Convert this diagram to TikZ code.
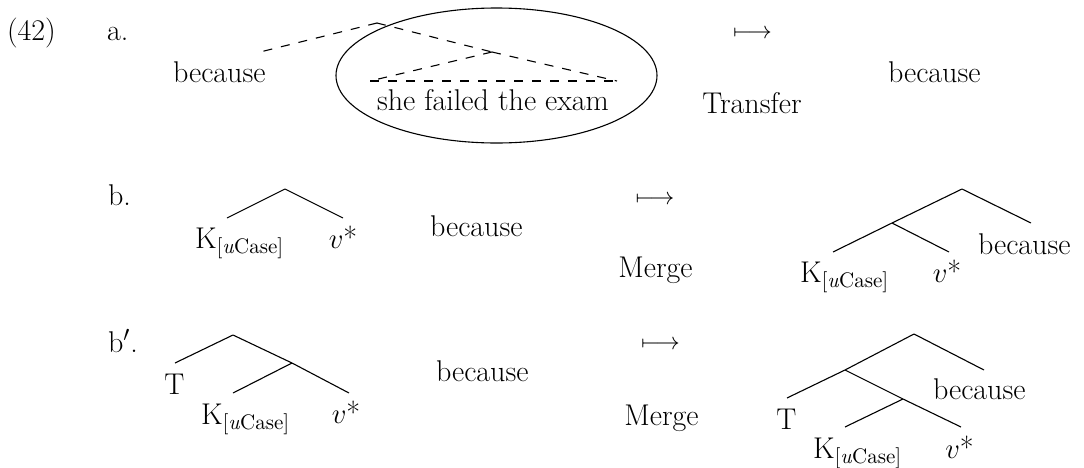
\documentclass[tikz,border=0pt]{standalone}
\usetikzlibrary{shapes.geometric}
\begin{document}
\begin{tikzpicture}[x=0.5pt,y=-0.5pt,
  lbl/.style={font=\fontsize{15}{18}\selectfont, inner sep=0pt, outer sep=0pt},
  arr/.style={font=\fontsize{13}{16}\selectfont, inner sep=0pt, outer sep=0pt, anchor=base},
  branch/.style={line width=0.55pt},
  dbranch/.style={line width=0.55pt, dash pattern=on 4.5pt off 4.5pt},
  ring/.style={draw, ellipse, line width=0.55pt, inner sep=0pt, minimum width=160.5pt, minimum height=67.5pt}]
\useasboundingbox (0,0) rectangle (1084,467);

% ---------- row a ----------
\node[lbl, anchor=base west] (n42) at (7,40) {(42)};
\node[lbl, anchor=base west] (la) at (107,40) {a.};
\node[lbl, anchor=base west] (bca) at (173,82) {because};
\node[lbl, anchor=base] (she) at (493,110) {she failed the exam};
\node[ring] (ell) at (496.5,75.5) {};
\coordinate (aTop) at (377,23);
\coordinate (aL) at (260,52);
\coordinate (aApex) at (492,52);
\coordinate (aBL) at (370,81);
\coordinate (aBR) at (617,81);
\draw[dbranch] (aTop) -- (aL);
\draw[dbranch] (aTop) -- (aApex);
\draw[dbranch] (aApex) -- (aBL);
\draw[dbranch] (aApex) -- (aBR);
\draw[dbranch] (aBL) -- (aBR);
\node[arr] (arrA) at (752.5,38) {$\longmapsto$};
\node[lbl, anchor=base] (transfer) at (752,113) {Transfer};
\node[lbl, anchor=base west] (bcaR) at (888,82) {because};

% ---------- row b ----------
\node[lbl, anchor=base west] (lb) at (108,205) {b.};
\coordinate (bTop) at (285,189);
\coordinate (bL) at (227,218);
\coordinate (bR) at (343,218);
\draw[branch] (bTop) -- (bL);
\draw[branch] (bTop) -- (bR);
\node[lbl, anchor=base west] (k1) at (195,248) {K\textsubscript{[\textit{u}Case]}};
\node[lbl, anchor=base] (v1) at (343,248) {$v$*};
\node[lbl, anchor=base west] (bcb) at (430,236) {because};
\node[arr] (arrB) at (655,204) {$\longmapsto$};
\node[lbl, anchor=base] (merge1) at (655.5,277) {Merge};
\coordinate (cTop) at (962,189);
\coordinate (cR) at (1031,223);
\coordinate (cIn) at (892,223);
\coordinate (cInL) at (833,252);
\coordinate (cInR) at (949,252);
\draw[branch] (cTop) -- (cR);
\draw[branch] (cTop) -- (cIn);
\draw[branch] (cIn) -- (cInL);
\draw[branch] (cIn) -- (cInR);
\node[lbl, anchor=base west] (k2) at (800,282) {K\textsubscript{[\textit{u}Case]}};
\node[lbl, anchor=base] (v2) at (947,282) {$v$*};
\node[lbl, anchor=base west] (bcbR) at (978,254) {because};

% ---------- row b' ----------
\node[lbl, anchor=base west] (lbp) at (108,352) {b$'$.};
\coordinate (dTop) at (233,335);
\coordinate (dT) at (175,363);
\coordinate (dIn) at (292,363);
\coordinate (dInL) at (233,393);
\coordinate (dR) at (349,393);
\draw[branch] (dTop) -- (dT);
\draw[branch] (dTop) -- (dIn);
\draw[branch] (dIn) -- (dR);
\draw[branch] (dIn) -- (dInL);
\node[lbl, anchor=base] (t1) at (174.5,394) {T};
\node[lbl, anchor=base west] (k3) at (201,424) {K\textsubscript{[\textit{u}Case]}};
\node[lbl, anchor=base] (v3) at (346,423) {$v$*};
\node[lbl, anchor=base west] (bcc) at (436,381) {because};
\node[arr] (arrC) at (660.5,349) {$\longmapsto$};
\node[lbl, anchor=base] (merge2) at (661.5,425) {Merge};
\coordinate (eTop) at (914,334);
\coordinate (eR) at (984,370);
\coordinate (eIn) at (845,370);
\coordinate (eT) at (787,398);
\coordinate (eIn2) at (903,399);
\coordinate (eIn2L) at (845,427);
\coordinate (eIn2R) at (961,427);
\draw[branch] (eTop) -- (eR);
\draw[branch] (eTop) -- (eIn);
\draw[branch] (eIn) -- (eT);
\draw[branch] (eIn) -- (eIn2);
\draw[branch] (eIn2) -- (eIn2L);
\draw[branch] (eIn2) -- (eIn2R);
\node[lbl, anchor=base] (t2) at (786.5,429) {T};
\node[lbl, anchor=base west] (k4) at (813,458) {K\textsubscript{[\textit{u}Case]}};
\node[lbl, anchor=base] (v4) at (959.5,458) {$v$*};
\node[lbl, anchor=base west] (bccR) at (933,399) {because};
\end{tikzpicture}
\end{document}
